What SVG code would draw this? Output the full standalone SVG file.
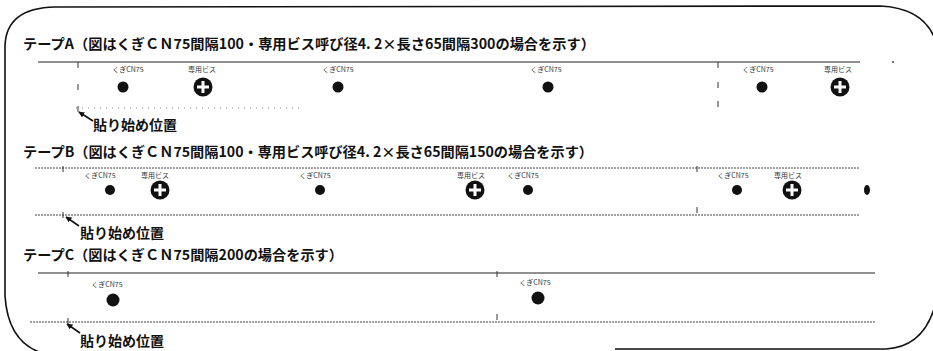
<svg xmlns="http://www.w3.org/2000/svg" width="933" height="351" viewBox="0 0 933 351">
<defs>
<style>
.title{font-family:"Noto Sans CJK JP","Noto Sans",sans-serif;font-size:14px;font-weight:bold;fill:#111}
.start{font-family:"Noto Sans CJK JP","Noto Sans",sans-serif;font-size:14px;font-weight:bold;fill:#111}
.lbl{font-family:"Noto Sans CJK JP","Noto Sans",sans-serif;font-size:7px;fill:#333;text-anchor:middle}
.frame{fill:none;stroke:#111;stroke-width:1.6}
.tapeSolid{stroke:#222;stroke-width:1.1;fill:none}
.tapeDot{stroke:#444;stroke-width:1;stroke-dasharray:2 1;fill:none}
.tapeFaint{stroke:#777;stroke-width:1;stroke-dasharray:1 5;fill:none}
.tick{stroke:#333;stroke-width:1;stroke-dasharray:6 16;fill:none}
.nail{fill:#111}
.screw{fill:#111}
.plus{stroke:#fff;stroke-width:3;stroke-linecap:butt}
.arrow{stroke:#111;stroke-width:1.6;fill:none}
</style>
<marker id="ah" viewBox="0 0 10 10" refX="9" refY="5" markerWidth="6" markerHeight="6" orient="auto-start-reverse" markerUnits="userSpaceOnUse">
<path d="M0,0 L10,5 L0,10 z" fill="#111"/>
</marker>
<g id="screwSym">
<circle class="screw" r="9.5"/>
<line class="plus" x1="-6" y1="0" x2="6" y2="0"/>
<line class="plus" x1="0" y1="-6" x2="0" y2="6"/>
</g>
</defs>
<rect width="933" height="351" fill="#fff"/>
<g id="frame">
<path class="frame" d="M5,296 L5,46 Q6,8 55,7 L880,6 Q925,8 936,42"/>
<path class="frame" d="M5,296 Q8,342 42,353"/>
<path class="frame" d="M936,302 Q925,347 886,349 L615,349"/>
</g>
<g id="tapeA">
<text class="title" x="23" y="49" textLength="572" lengthAdjust="spacingAndGlyphs">テープA（図はくぎＣＮ75間隔100・専用ビス呼び径4. 2×長さ65間隔300の場合を示す）</text>
<line class="tapeSolid" x1="38" y1="62" x2="860" y2="62"/>
<line class="tapeFaint" x1="76" y1="108" x2="300" y2="108"/>
<circle cx="893" cy="62" r="0.9" fill="#333"/>
<path class="tick" d="M78,62 V112"/>
<path class="tick" d="M718,62 V68 M718,82 V94 M718,101 V110"/>
<g id="A-n1"><text class="lbl" x="128" y="72">くぎCN75</text><circle class="nail" cx="123" cy="87" r="5.5"/></g>
<g id="A-s1"><text class="lbl" x="202" y="72">専用ビス</text><use href="#screwSym" x="203" y="87"/></g>
<g id="A-n2"><text class="lbl" x="338" y="72">くぎCN75</text><circle class="nail" cx="338" cy="87" r="5.5"/></g>
<g id="A-n3"><text class="lbl" x="546" y="72">くぎCN75</text><circle class="nail" cx="548" cy="87" r="5.5"/></g>
<g id="A-n4"><text class="lbl" x="758" y="72">くぎCN75</text><circle class="nail" cx="762" cy="87" r="5.5"/></g>
<g id="A-s2"><text class="lbl" x="838" y="72">専用ビス</text><use href="#screwSym" x="840" y="87"/></g>
<g id="A-start"><text class="start" x="93" y="130">貼り始め位置</text></g>
</g>
<g id="tapeB">
<text class="title" x="23" y="157" textLength="570" lengthAdjust="spacingAndGlyphs">テープB（図はくぎＣＮ75間隔100・専用ビス呼び径4. 2×長さ65間隔150の場合を示す）</text>
<line class="tapeDot" x1="35" y1="168" x2="860" y2="168"/>
<line class="tapeDot" x1="35" y1="215" x2="860" y2="215"/>
<path class="tick" d="M63,166 V172 M63,212 V218"/>
<path class="tick" d="M697,166 V175 M697,207 V215"/>
<g id="B-n1"><text class="lbl" x="100" y="178">くぎCN75</text><circle class="nail" cx="110" cy="190" r="5"/></g>
<g id="B-s1"><text class="lbl" x="155" y="178">専用ビス</text><use href="#screwSym" x="160" y="190"/></g>
<g id="B-n2"><text class="lbl" x="315" y="178">くぎCN75</text><circle class="nail" cx="320" cy="190" r="5"/></g>
<g id="B-s2"><text class="lbl" x="471" y="178">専用ビス</text><use href="#screwSym" x="475" y="190"/></g>
<g id="B-n3"><text class="lbl" x="523" y="178">くぎCN75</text><circle class="nail" cx="528" cy="190" r="5"/></g>
<g id="B-n4"><text class="lbl" x="733" y="178">くぎCN75</text><circle class="nail" cx="737" cy="190" r="5"/></g>
<g id="B-s3"><text class="lbl" x="788" y="178">専用ビス</text><use href="#screwSym" x="792" y="190"/></g>
<g id="B-n5"><ellipse class="nail" cx="867" cy="190" rx="3" ry="5"/></g>
<g id="B-start"><text class="start" x="80" y="238">貼り始め位置</text></g>
</g>
<g id="tapeC">
<text class="title" x="23" y="260" textLength="320" lengthAdjust="spacingAndGlyphs">テープC（図はくぎＣＮ75間隔200の場合を示す）</text>
<line class="tapeSolid" x1="38" y1="273" x2="875" y2="273"/>
<line class="tapeDot" x1="30" y1="322" x2="875" y2="322"/>
<path class="tick" d="M68,271 V278 M68,318 V325"/>
<path class="tick" d="M497,271 V280 M497,314 V323"/>
<g id="C-n1"><text class="lbl" x="107" y="287">くぎCN75</text><circle class="nail" cx="113" cy="300" r="6.5"/></g>
<g id="C-n2"><text class="lbl" x="535" y="285">くぎCN75</text><circle class="nail" cx="538" cy="298" r="6.5"/></g>
<g id="C-start"><text class="start" x="80" y="346">貼り始め位置</text></g>
</g>
<g id="connectors">
<line class="arrow" x1="93" y1="121" x2="79" y2="112" marker-end="url(#ah)"/>
<line class="arrow" x1="79" y1="226" x2="66" y2="217" marker-end="url(#ah)"/>
<line class="arrow" x1="80" y1="333" x2="67" y2="324" marker-end="url(#ah)"/>
</g>
</svg>
